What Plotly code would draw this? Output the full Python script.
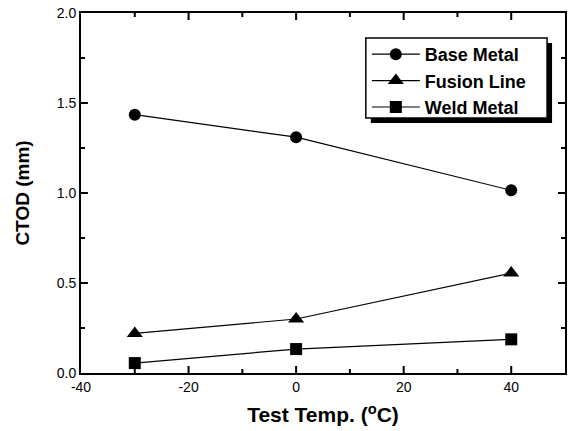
import plotly.graph_objects as go

temps = [-30, 0, 40]
base_metal = [1.435, 1.31, 1.015]
fusion_line = [0.22, 0.30, 0.555]
weld_metal = [0.055, 0.133, 0.187]

x_range = [-40, 50]
x_major = [-40, -20, 0, 20, 40]
x_major_text = ["-40", "-20", "0", "20", "40"]
x_minor = [-30, -10, 10, 30]
y_range = [0, 2.0]
y_major = [0, 0.5, 1.0, 1.5, 2.0]
y_major_text = ["0.0", "0.5", "1.0", "1.5", "2.0"]
y_minor = [0.25, 0.75, 1.25, 1.75]

series = [
    ("Base Metal", base_metal, "circle"),
    ("Fusion Line", fusion_line, "triangle-up"),
    ("Weld Metal", weld_metal, "square"),
]

fig = go.Figure()
for name, vals, sym in series:
    fig.add_trace(go.Scatter(
        x=temps, y=vals, name="<b>" + name + "</b>", mode="lines+markers",
        line=dict(color="black", width=1.2),
        marker=dict(symbol=sym, size=12 if sym != "triangle-up" else 14, color="black"),
    ))

font = "Liberation Sans, Arial, sans-serif"

fig.update_xaxes(
    range=x_range, tickmode="array", tickvals=x_major, ticktext=x_major_text,
    showline=True, linecolor="black", linewidth=2, mirror=True,
    ticks="", showgrid=False, zeroline=False,
    tickfont=dict(family=font, size=14, color="black"),
    title=dict(text="<b>Test Temp. (<sup>o</sup>C)</b>", font=dict(family=font, size=21, color="black"), standoff=14),
)
fig.update_yaxes(
    range=y_range, tickmode="array", tickvals=y_major, ticktext=y_major_text,
    showline=True, linecolor="black", linewidth=2, mirror=True,
    ticks="", showgrid=False, zeroline=False,
    tickfont=dict(family=font, size=14, color="black"),
    title=dict(text="<b>CTOD (mm)</b>", font=dict(family=font, size=19, color="black"), standoff=22),
)

# inside tick marks on all four sides, placed via the axes' own scales
px_w, px_h = 486.0, 360.0
tick_line = dict(color="black", width=2)
for vals, length in ((x_major, 7), (x_minor, 4)):
    for v in vals:
        if v <= x_range[0] or v >= x_range[1]:
            continue
        fig.add_shape(type="line", xref="x", yref="paper", x0=v, x1=v, y0=0, y1=length / px_h, line=tick_line)
        fig.add_shape(type="line", xref="x", yref="paper", x0=v, x1=v, y0=1, y1=1 - length / px_h, line=tick_line)
for vals, length in ((y_major, 7), (y_minor, 4)):
    for v in vals:
        if v <= y_range[0] or v >= y_range[1]:
            continue
        fig.add_shape(type="line", xref="paper", yref="y", x0=0, x1=length / px_w, y0=v, y1=v, line=tick_line)
        fig.add_shape(type="line", xref="paper", yref="y", x0=1, x1=1 - length / px_w, y0=v, y1=v, line=tick_line)

# legend box with shadow (drawn as shapes; legend itself is transparent)
def px2paper(xp, yp):
    return (xp - 81) / px_w, (373 - yp) / px_h
sx0, sy1 = px2paper(372, 43)
sx1, sy0 = px2paper(554, 123)
bx0, by1 = px2paper(367, 38)
bx1, by0 = px2paper(549, 118)
fig.add_shape(type="rect", xref="paper", yref="paper",
              x0=sx0, x1=sx1, y0=sy0, y1=sy1,
              fillcolor="black", line=dict(width=0), layer="above")
fig.add_shape(type="rect", xref="paper", yref="paper",
              x0=bx0, x1=bx1, y0=by0, y1=by1,
              fillcolor="white", line=dict(width=1.5, color="black"), layer="above")

lx, ly = px2paper(368, 36)
fig.update_layout(
    width=572, height=431,
    margin=dict(l=81, r=5, t=13, b=58),
    plot_bgcolor="white", paper_bgcolor="white",
    showlegend=True,
    legend=dict(x=lx, y=ly, xanchor="left", yanchor="top",
                bgcolor="rgba(0,0,0,0)", borderwidth=0,
                font=dict(family=font, size=18, color="black"),
                itemwidth=48, tracegroupgap=0),
    font=dict(family=font, color="black"),
)

fig.write_html("out.html")
